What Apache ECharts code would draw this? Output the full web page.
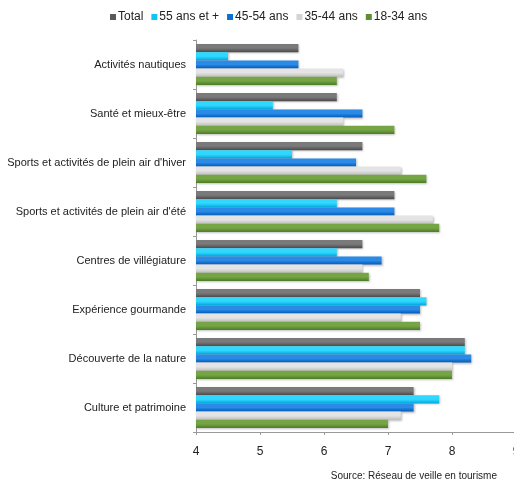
<!DOCTYPE html>
<html>
<head>
<meta charset="utf-8">
<script src="https://cdn.jsdelivr.net/npm/echarts@6/dist/echarts.min.js"></script>
<style>
html,body{margin:0;padding:0;background:#fff;}
#c{width:514px;height:482px;}
</style>
</head>
<body>
<div id="c"></div>
<script>
var categories = ["Activités nautiques","Santé et mieux-être","Sports et activités de plein air d'hiver","Sports et activités de plein air d'été","Centres de villégiature","Expérience gourmande","Découverte de la nature","Culture et patrimoine"];
var seriesNames = ["Total","55 ans et +","45-54 ans","35-44 ans","18-34 ans"];
var total   = [5.6, 6.2, 6.6, 7.1, 6.6, 7.5, 8.2, 7.4];
var age55   = [4.5, 5.2, 5.5, 6.2, 6.2, 7.6, 8.2, 7.8];
var age4554 = [5.6, 6.6, 6.5, 7.1, 6.9, 7.5, 8.3, 7.4];
var age3544 = [6.3, 6.3, 7.2, 7.7, 6.6, 7.2, 8.0, 7.2];
var age1834 = [6.2, 7.1, 7.6, 7.8, 6.7, 7.5, 8.0, 7.0];
var xTicks = [4, 5, 6, 7, 8, 9];

var values = [total, age55, age4554, age3544, age1834];
var colors = [
  ["#7a7a7a", "#4a4a4a"],
  ["#30d8ff", "#00a8dc"],
  ["#2a8ae6", "#0058b8"],
  ["#e4e4e4", "#bdbdbd"],
  ["#75a545", "#4c7a26"]
];
var legendColors = ["#5a5a5a", "#10c4f4", "#0a6fd6", "#d4d4d4", "#5e8e32"];

var chart = echarts.init(document.getElementById('c'));
var series = seriesNames.map(function (n, i) {
  return {
    name: n,
    type: 'bar',
    data: values[i],
    barGap: '0%',
    barCategoryGap: '16%',
    itemStyle: {
      color: new echarts.graphic.LinearGradient(0, 0, 0, 1, [
        {offset: 0, color: colors[i][0]},
        {offset: 0.5, color: colors[i][0]},
        {offset: 1, color: colors[i][1]}
      ]),
      shadowColor: 'rgba(0,0,0,0.25)',
      shadowBlur: 2,
      shadowOffsetX: 1,
      shadowOffsetY: 1
    }
  };
});

chart.setOption({
  animation: false,
  textStyle: {fontFamily: 'Liberation Sans, Arial, sans-serif'},
  color: legendColors,
  legend: {
    data: seriesNames.map(function (n, i) { return {name: n, itemStyle: {color: legendColors[i]}}; }),
    left: 105,
    top: 6,
    icon: 'rect',
    itemWidth: 6,
    itemHeight: 6,
    itemGap: 8,
    textStyle: {fontSize: 12, color: '#222', padding: [0, 0, 0, -3]}
  },
  grid: {left: 196, width: 320, top: 40, bottom: 50, outerBoundsMode: 'none', containLabel: false},
  xAxis: {
    type: 'value',
    min: xTicks[0],
    max: xTicks[xTicks.length - 1],
    interval: 1,
    axisLine: {show: true, lineStyle: {color: '#999'}},
    axisTick: {show: true, length: 3, lineStyle: {color: '#999'}},
    splitLine: {show: false},
    axisLabel: {fontSize: 12, color: '#222', margin: 14}
  },
  yAxis: {
    type: 'category',
    inverse: true,
    data: categories,
    axisLine: {lineStyle: {color: '#999'}},
    axisTick: {show: true, length: 3, lineStyle: {color: '#999'}},
    axisLabel: {fontSize: 11, color: '#222', margin: 10}
  },
  graphic: [{
    type: 'text',
    right: 17,
    bottom: 1,
    style: {text: 'Source: Réseau de veille en tourisme', fontSize: 10, fill: '#222', fontFamily: 'Liberation Sans, Arial, sans-serif'}
  }],
  series: series
});
</script>
</body>
</html>
